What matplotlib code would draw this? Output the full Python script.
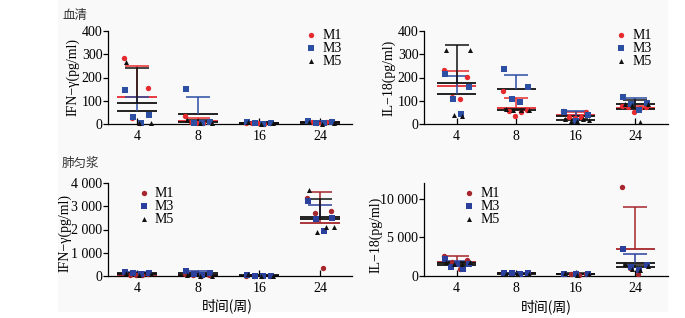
import numpy as np
import matplotlib
matplotlib.use('Agg')
import matplotlib.pyplot as plt
from matplotlib.patches import Rectangle
from matplotlib.ticker import FuncFormatter

# 时间点
times = ['4', '8', '16', '24']
groups = ['M1', 'M3', 'M5']

# 血清 IFN-γ (pg/ml), one list per time point
serum_ifn_m1 = [[285, 155, 25, 5], [35, 12, 8, 5, 3], [6, 4, 3, 2, 5], [14, 12, 10, 8, 6, 5]]
serum_ifn_m3 = [[145, 38, 30, 5], [150, 10, 5, 3], [8, 5, 3, 2], [12, 10, 5, 3]]
serum_ifn_m5 = [[265, 3, 3], [18, 5, 3], [10, 3, 1], [8, 4, 2]]

# 血清 IL-18 (pg/ml)
serum_il18_m1 = [[232, 203, 117, 109], [142, 60, 56, 50, 35], [55, 50, 30, 28, 25], [78, 75, 72, 70, 53]]
serum_il18_m3 = [[214, 161, 106, 42], [235, 158, 107, 96], [52, 38, 12], [116, 90, 85, 60]]
serum_il18_m5 = [[318, 318, 39, 35], [63, 62, 60, 62], [22, 18, 15, 20, 14], [85, 88, 80, 10]]

# 肺匀浆 IFN-γ (pg/ml)
lung_ifn_m1 = [[110, 80, 60, 40, 30], [80, 50, 30, 20], [10, 8, 5, 3], [3340, 2800, 2700, 330]]
lung_ifn_m3 = [[180, 150, 110, 80], [220, 150, 100, 60], [25, 15, 10, 5], [3240, 2480, 2450, 1940]]
lung_ifn_m5 = [[150, 100, 60], [40, 20, 10], [70, 10, 5], [3700, 2120, 1910, 2120]]

# 肺匀浆 IL-18 (pg/ml)
lung_il18_m1 = [[2600, 2080, 1860, 870], [420, 380, 330, 280], [320, 260, 220, 180], [11470, 1430, 1000, 220]]
lung_il18_m3 = [[2170, 1520, 1130, 910, 1600], [430, 400, 360, 300], [300, 250, 200], [3420, 1430, 1170, 780]]
lung_il18_m5 = [[1800, 1750, 1600, 1500], [300, 250, 220], [420, 200, 150], [1500, 1300, 900, 800]]

plt.rcParams['font.family'] = ['Liberation Serif', 'Noto Sans CJK SC']
cjk = ['Noto Sans CJK SC', 'DejaVu Sans']
fs = 10

top_colors = ['#e62b30', '#2c4ea3', '#111111']
bot_colors = ['#a5262c', '#2b3f9c', '#111111']
markers = ['o', 's', '^']
sizes = [15, 14, 13]
shift = [-0.02, 0.0, 0.02]

fig = plt.figure(figsize=(6.85, 3.18), dpi=100)
fig.patches.append(Rectangle((58 / 685, 6 / 318), 610 / 685, 312 / 318, transform=fig.transFigure,
                             facecolor='#f9f9f9', edgecolor='none', zorder=-10))


def thousands(v, p):
    return f'{int(v):,}'.replace(',', ' ')


def spread(n, w=0.2):
    # alternate points left / right across the column
    base = np.linspace(-w, w, n)
    idx = []
    lo, hi = 0, n - 1
    while lo <= hi:
        idx.append(lo)
        if hi != lo:
            idx.append(hi)
        lo += 1
        hi -= 1
    return base[idx]


def draw_panel(ax, data, colors, ymax, yticks, ylabel, xlim, fmt=None):
    ax.set_facecolor('none')
    ax.set_xlim(*xlim)
    ax.set_ylim(0, ymax)
    for s in ['top', 'right']:
        ax.spines[s].set_visible(False)
    for s in ['left', 'bottom']:
        ax.spines[s].set_linewidth(0.9)
    ax.set_xticks(range(len(times)))
    ax.set_xticklabels(times)
    ax.set_yticks(yticks)
    if fmt:
        ax.yaxis.set_major_formatter(FuncFormatter(fmt))
    ax.tick_params(axis='y', direction='out', length=3.5, width=0.9, labelsize=fs, pad=0.5)
    ax.tick_params(axis='x', direction='in', length=4, width=0.9, labelsize=fs, pad=4)
    ax.set_ylabel(ylabel, fontsize=fs)

    handles = []
    for i in range(len(times)):
        for g in range(3):
            vals = np.array(data[g][i], dtype=float)
            m = vals.mean()
            sd = vals.std(ddof=1)
            mc = colors[0] if g == 0 else '#111111'
            ax.hlines(m, i - 0.33, i + 0.33, color=mc, lw=1.3, zorder=2)
            ax.vlines(i, m, m + sd, color=colors[g], lw=1.1, zorder=2)
            ax.hlines(m + sd, i - 0.2, i + 0.2, color=colors[g], lw=1.1, zorder=2)
            xs = i + shift[g] + spread(len(vals))
            h = ax.scatter(xs, vals, s=sizes[g], marker=markers[g], color=colors[g],
                           linewidths=0, zorder=3, clip_on=False, label=groups[g])
            if i == 0:
                handles.append(h)
    return handles


def add_legend(ax, h, anchor):
    ax.legend(h, groups, loc='upper left', bbox_to_anchor=anchor, frameon=False, fontsize=fs,
              handlelength=0.6, handletextpad=0.5, labelspacing=0.0, borderpad=0, borderaxespad=0,
              scatterpoints=1)


ax1 = fig.add_axes([108 / 685, 194 / 318, 244 / 685, 93 / 318])
h = draw_panel(ax1, [serum_ifn_m1, serum_ifn_m3, serum_ifn_m5], top_colors, 400,
               [0, 100, 200, 300, 400], 'IFN\u2212\u03b3(pg/ml)', (-0.48, 3.52))
ax1.yaxis.set_label_coords(-0.115, 0.5)
add_legend(ax1, h, (0.815, 1.02))

ax2 = fig.add_axes([424 / 685, 194 / 318, 244 / 685, 93 / 318])
h = draw_panel(ax2, [serum_il18_m1, serum_il18_m3, serum_il18_m5], top_colors, 400,
               [0, 100, 200, 300, 400], 'IL\u221218(pg/ml)', (-0.55, 3.55))
ax2.yaxis.set_label_coords(-0.115, 0.5)
add_legend(ax2, h, (0.79, 1.02))

ax3 = fig.add_axes([108 / 685, 42 / 318, 244 / 685, 93 / 318])
h = draw_panel(ax3, [lung_ifn_m1, lung_ifn_m3, lung_ifn_m5], bot_colors, 4000,
               [0, 1000, 2000, 3000, 4000], 'IFN\u2212\u03b3(pg/ml)', (-0.48, 3.52), thousands)
ax3.yaxis.set_label_coords(-0.148, 0.46)
add_legend(ax3, h, (0.13, 0.96))
ax3.set_xlabel('时间(周)', family=cjk, fontsize=fs)
ax3.xaxis.set_label_coords(0.49, -0.24)

ax4 = fig.add_axes([424 / 685, 42 / 318, 244 / 685, 93 / 318])
h = draw_panel(ax4, [lung_il18_m1, lung_il18_m3, lung_il18_m5], bot_colors, 12000,
               [0, 5000, 10000], 'IL\u221218(pg/ml)', (-0.55, 3.55), thousands)
ax4.yaxis.set_label_coords(-0.172, 0.44)
add_legend(ax4, h, (0.168, 0.96))
ax4.set_xlabel('时间(周)', family=cjk, fontsize=fs)
ax4.xaxis.set_label_coords(0.5, -0.25)

fig.text(62 / 685, 1 - 15 / 318, '血清', family=cjk, fontsize=9, va='center', ha='left', color='#333333')
fig.text(62 / 685, 1 - 163 / 318, '肺匀浆', family=cjk, fontsize=9, va='center', ha='left', color='#333333')

fig.savefig('out.png', dpi=100)
